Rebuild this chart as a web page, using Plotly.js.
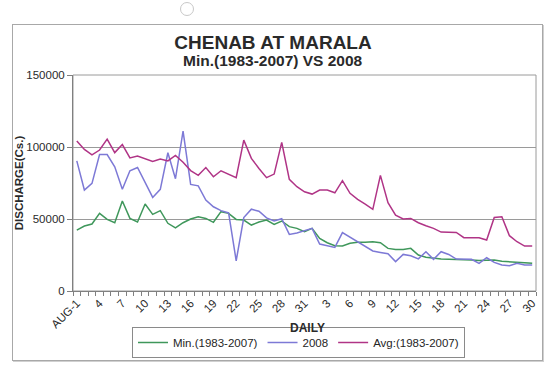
<!DOCTYPE html>
<html>
<head>
<meta charset="utf-8">
<script src="https://cdn.plot.ly/plotly-3.0.1.min.js"></script>
<style>
  html, body { margin:0; padding:0; background:#ffffff; }
  #wrap { position:relative; width:560px; height:375px; overflow:hidden; }
  #chart { position:absolute; left:0; top:0; width:560px; height:375px; }
  #frame { position:absolute; left:12px; top:24px; width:529px; height:335px; border:1px solid #a8a8a8; box-shadow:1px 1px 0 #d0d0d0; pointer-events:none; }
  #hole { position:absolute; left:180px; top:2px; width:12px; height:12px; border-radius:50%; border:1px solid #c8c8c8; pointer-events:none; }
</style>
</head>
<body>
<div id="wrap">
  <div id="chart"></div>
  <div id="frame"></div>
  <div id="hole"></div>
</div>
<script>
// Categories: 1 Aug .. 30 Sep
const categories = [
  "AUG-1","AUG-2","AUG-3","AUG-4","AUG-5","AUG-6","AUG-7","AUG-8","AUG-9","AUG-10",
  "AUG-11","AUG-12","AUG-13","AUG-14","AUG-15","AUG-16","AUG-17","AUG-18","AUG-19","AUG-20",
  "AUG-21","AUG-22","AUG-23","AUG-24","AUG-25","AUG-26","AUG-27","AUG-28","AUG-29","AUG-30","AUG-31",
  "SEP-1","SEP-2","SEP-3","SEP-4","SEP-5","SEP-6","SEP-7","SEP-8","SEP-9","SEP-10",
  "SEP-11","SEP-12","SEP-13","SEP-14","SEP-15","SEP-16","SEP-17","SEP-18","SEP-19","SEP-20",
  "SEP-21","SEP-22","SEP-23","SEP-24","SEP-25","SEP-26","SEP-27","SEP-28","SEP-29","SEP-30"
];

// Tick labels shown on every third day
const tickLabels = ["AUG-1","4","7","10","13","16","19","22","25","28","31",
                    "3","6","9","12","15","18","21","24","27","30"];

// Min.(1983-2007)
const minVals = [
  42300,45100,46500,53900,49700,47400,62500,50400,47900,60400,
  53200,55800,47000,43900,47400,50000,51600,50400,47700,55100,
  53900,49700,49300,45800,47900,49300,46300,48600,44700,43500,41200,
  43500,36500,33500,31500,31200,33100,33800,33800,34200,33500,
  29600,28900,28900,29600,25000,23400,22700,22200,22000,22000,
  21500,21500,21100,21100,21500,20600,20400,20100,19700,19200
];

// 2008
const vals2008 = [
  90400,70100,74700,94800,94800,86300,70600,83500,85800,75900,
  65000,70600,96000,78000,111000,74000,73000,63200,58500,55800,
  54200,21000,51000,56800,55400,50800,48600,50200,39300,40300,41900,
  43500,32600,31500,30300,40500,37200,34200,30800,27800,26800,
  25900,20400,25400,24500,22300,27300,22000,27300,25400,22200,
  22000,22000,19200,23100,19900,18000,17600,19200,18000,18000
];

// Avg:(1983-2007)
const avgVals = [
  104200,98300,94600,97900,105500,96100,101700,92400,93700,91700,
  90000,91700,90300,94200,89400,83600,80300,85700,79300,83500,
  81200,78700,104800,92100,85100,78700,81200,103200,77500,72400,68900,
  67300,70100,70100,68200,76600,67800,63600,60400,56700,80300,
  61300,52700,50000,50400,47400,45300,43500,40900,40900,40700,
  37000,37200,37000,35400,51100,51600,38400,34200,31200,31200
];

const yTicks = [0, 50000, 100000, 150000];

const xIdx = categories.map((c, i) => i);
const tickPos = xIdx.filter(i => i % 3 === 0);

const FONT = "Liberation Sans, Arial, Helvetica, sans-serif";

function tr(name, y, color) {
  return {
    type: "scatter", mode: "lines", name: name,
    x: xIdx, y: y, text: categories,
    hovertemplate: "%{text}: %{y}<extra>" + name + "</extra>",
    line: { color: color, width: 1.5 }
  };
}

const data = [
  tr("Min.(1983-2007)", minVals, "#3f975b"),
  tr("2008", vals2008, "#7d79d6"),
  tr("Avg:(1983-2007)", avgVals, "#b03486")
];

const layout = {
  width: 560, height: 375,
  margin: { l: 73, r: 24, t: 75, b: 84 },
  paper_bgcolor: "rgba(0,0,0,0)",
  plot_bgcolor: "#ffffff",
  font: { family: FONT, color: "#262626" },
  showlegend: true,
  title: {
    text: "<b>CHENAB AT MARALA</b>",
    font: { family: FONT, size: 19, color: "#2a2a2a" },
    x: 273/560, xref: "container", xanchor: "center",
    y: 1 - 42/375, yref: "container", yanchor: "middle"
  },
  xaxis: {
    range: [-0.5, 60.5],
    tickmode: "array", tickvals: tickPos, ticktext: tickLabels,
    tickangle: -45,
    ticks: "", showgrid: false, zeroline: false,
    showline: true, linecolor: "#808080", linewidth: 1,
    tickfont: { family: FONT, size: 11.5, color: "#2a2a2a" },
    minor: { ticks: "outside", ticklen: 4, tickcolor: "#808080", tickmode: "linear", tick0: 0.5, dtick: 1, showgrid: false },
    automargin: false
  },
  yaxis: {
    range: [0, 150000],
    tickmode: "array", tickvals: yTicks, ticktext: yTicks.map(String),
    ticks: "outside", ticklen: 5, tickcolor: "#808080",
    showgrid: true, gridcolor: "#9a9a9a", gridwidth: 1,
    zeroline: false,
    showline: true, linecolor: "#808080", linewidth: 1,
    tickfont: { family: FONT, size: 11.5, color: "#2a2a2a" },
    title: { text: "<b>DISCHARGE(Cs.)</b>", font: { family: FONT, size: 11.5, color: "#2a2a2a" }, standoff: 0 },
    automargin: false
  },
  legend: {
    orientation: "h",
    x: 0.487, xanchor: "center",
    y: 1 - 327/375, yref: "container", yanchor: "top",
    bgcolor: "#ffffff", bordercolor: "#8a8a8a", borderwidth: 1,
    font: { family: FONT, size: 11.5, color: "#262626" },
    itemwidth: 30, tracegroupgap: 0
  },
  annotations: [
    {
      text: "<b>Min.(1983-2007) VS 2008</b>",
      xref: "paper", yref: "paper",
      x: (273 - 73) / 463, y: (291 - 60) / 216,
      xanchor: "center", yanchor: "middle",
      showarrow: false,
      font: { family: FONT, size: 15.5, color: "#2a2a2a" }
    },
    {
      text: "<b>DAILY</b>",
      xref: "paper", yref: "paper",
      x: (307 - 73) / 463, y: (291 - 328) / 216,
      xanchor: "center", yanchor: "middle",
      showarrow: false,
      font: { family: FONT, size: 12, color: "#2a2a2a" }
    }
  ],
  shapes: [
    { type: "rect", xref: "paper", yref: "paper", x0: 0, x1: 1, y0: 0, y1: 1,
      line: { color: "#9a9a9a", width: 1 }, layer: "below" }
  ]
};

Plotly.newPlot("chart", data, layout, { staticPlot: true, displayModeBar: false });
</script>
</body>
</html>
